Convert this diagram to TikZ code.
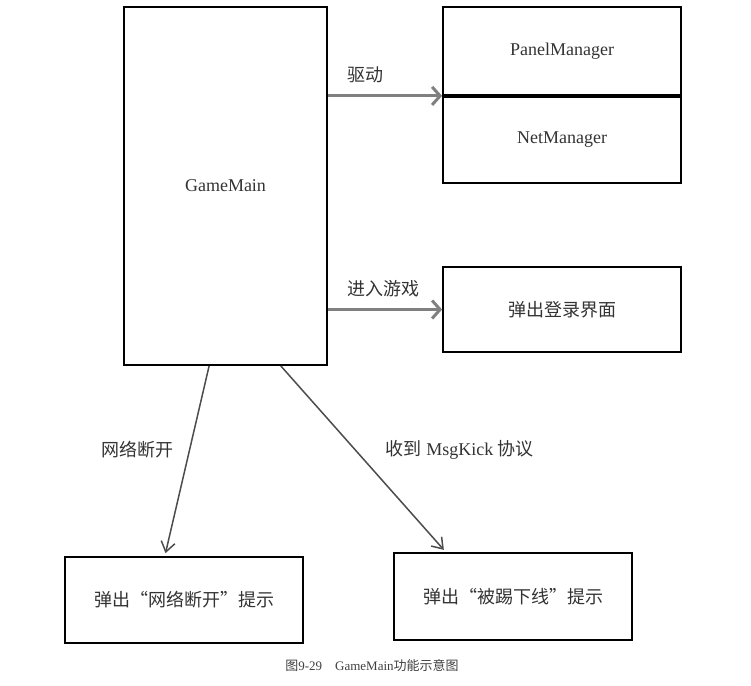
\documentclass[tikz,border=0pt]{standalone}
\usepackage{fontspec}
\setmainfont{Liberation Serif}
\newfontfamily\cjk{Noto Sans CJK SC}
\usetikzlibrary{arrows.meta,calc,positioning}

\begin{document}
\begin{tikzpicture}[
        x=1pt,
        y=-1pt,
        box/.style={
            draw,
            line width=1.8pt,
            inner sep=0pt,
            minimum width=238pt,
            font=\fontsize{18}{21}\selectfont,
            text=black!80,
        },
        drive/.style={
            -{Straight Barb[length=8pt,width=18pt]},
            line width=3pt,
            draw=black!50,
        },
        trigger/.style={
            -{Straight Barb[length=10pt,width=14pt]},
            line width=1.5pt,
            draw=black!70,
            shorten >=3pt
        },
        lbl/.style={
            font=\fontsize{18}{21}\selectfont,
            text=black!80,
            inner sep=0pt
        }
    ]
    \useasboundingbox (0,0) rectangle (751,685);
    \node[box, minimum width=203pt, minimum height=358pt] (gamemain) at (225.5,186) {GameMain};
    \node[box, minimum height=88pt] (panel) at (562,51) {PanelManager};
    \node[box, minimum height=86pt, below=0pt of panel] (net) {NetManager};
    \node[box, minimum height=85pt] (login) at (562,309.5) {\cjk 弹出登录界面};
    \node[box, minimum height=86pt] (offline) at (184,600) {\cjk 弹出“网络断开”提示};
    \node[box, minimum height=87pt] (kicked) at (513,596.5) {\cjk 弹出“被踢下线”提示};

    \draw[drive] (gamemain.east |- panel.south) -- (panel.south west)
        node[lbl, pos=0, above right, xshift=18pt, yshift=11pt] {\cjk 驱动};
    \draw[drive] (gamemain.east |- login.west) -- (login.west)
        node[lbl, pos=0, above right, xshift=18pt, yshift=11pt] {\cjk 进入游戏};

    \draw[trigger] ($(gamemain.south west)!0.42!(gamemain.south east)$)
        -- ($(offline.north west)!0.42!(offline.north east)$)
        node[lbl, pos=0.44, left=15pt] {\cjk 网络断开};
    \draw[trigger] ($(gamemain.south west)!0.77!(gamemain.south east)$)
        -- ($(kicked.north west)!0.22!(kicked.north east)$)
        node[lbl, pos=0.45, right=30pt] {{\cjk 收到} MsgKick {\cjk 协议}};

    \node[font=\fontsize{13}{15}\selectfont, text=black!75] (caption) at (372,665)
        {{\cjk 图}9-29\quad GameMain{\cjk 功能示意图}};
\end{tikzpicture}
\end{document}
